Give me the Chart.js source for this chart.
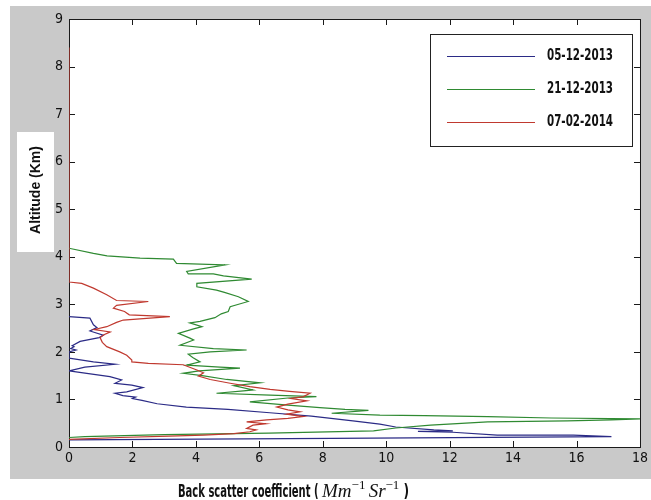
<!DOCTYPE html>
<html>
<head>
<meta charset="utf-8">
<script src="https://cdn.jsdelivr.net/npm/chart.js@4.4.1/dist/chart.umd.min.js"></script>
<style>
  html, body { margin: 0; padding: 0; background: #fff; }
  #wrap { width: 651px; height: 500px; }
</style>
</head>
<body>
<div id="wrap"><canvas id="chart" width="651" height="500"></canvas></div>
<script>
const seriesLabels = ["05-12-2013", "21-12-2013", "07-02-2014"];
const seriesColors = ["#2b2b86", "#2f8a32", "#c0392f"];

// 05-12-2013 : backscatter vs altitude (km), bottom to top
const blueX = [0, 8.3, 17.1, 15.9, 13.5, 12.1, 11.0, 12.1, 11.5, 10.3, 9.8, 8.95, 7.64, 6.33, 5.01, 3.7, 2.78, 2.3, 2.0, 2.1, 1.7, 1.45, 1.82, 2.33, 1.98, 1.45, 1.66, 1.29, 0.56, 0, 0.5, 1.45, 0.77, 0, 0, 0.22, 0.05, 0.16, 0.1, 0.35, 0.95, 1.08, 0.66, 0.88, 0.77, 0.66, 0];
const blueAlt = [0.15, 0.18, 0.22, 0.25, 0.25, 0.31, 0.33, 0.34, 0.36, 0.42, 0.48, 0.55, 0.65, 0.72, 0.79, 0.84, 0.91, 0.98, 1.02, 1.05, 1.08, 1.13, 1.16, 1.25, 1.30, 1.34, 1.41, 1.48, 1.55, 1.60, 1.68, 1.74, 1.79, 1.87, 2.0, 2.04, 2.07, 2.11, 2.13, 2.22, 2.30, 2.35, 2.44, 2.51, 2.57, 2.71, 2.74];

// 21-12-2013
const greenX = [0, 0.5, 3.0, 6.3, 9.6, 10.3, 11.4, 13.2, 15.7, 17.1, 18, 15.2, 13.2, 11.2, 9.8, 8.28, 9.44, 8.7, 7.91, 6.9, 5.7, 6.9, 7.8, 6.34, 4.65, 5.5, 5.8, 5.2, 6.02, 4.97, 4.2, 3.6, 4.1, 5.39, 4.76, 3.71, 4.13, 3.9, 3.76, 4.45, 5.6, 4.55, 3.5, 3.93, 3.81, 3.45, 3.9, 4.19, 3.81, 4.13, 4.6, 4.8, 5.02, 5.08, 5.65, 5.34, 4.9, 4.65, 4.03, 4.03, 5.76, 4.87, 4.55, 3.76, 3.71, 4.92, 3.39, 3.29, 2.24, 1.2, 0.77, 0];
const greenAlt = [0.2, 0.22, 0.26, 0.29, 0.34, 0.40, 0.46, 0.53, 0.55, 0.57, 0.59, 0.61, 0.64, 0.66, 0.67, 0.71, 0.77, 0.79, 0.83, 0.88, 0.95, 1.03, 1.06, 1.09, 1.13, 1.18, 1.20, 1.29, 1.35, 1.42, 1.50, 1.55, 1.60, 1.66, 1.68, 1.72, 1.79, 1.88, 1.95, 2.0, 2.04, 2.07, 2.14, 2.25, 2.29, 2.39, 2.48, 2.53, 2.61, 2.64, 2.72, 2.80, 2.85, 2.95, 3.06, 3.16, 3.25, 3.30, 3.37, 3.44, 3.53, 3.60, 3.64, 3.64, 3.69, 3.83, 3.86, 3.95, 3.97, 4.02, 4.07, 4.18];

// 07-02-2014
const redX = [0, 1.6, 3.15, 4.24, 5.2, 5.7, 5.9, 5.6, 5.8, 6.2, 5.6, 6.23, 6.9, 7.39, 6.86, 7.28, 6.9, 6.55, 6.9, 7.5, 7.0, 7.39, 7.6, 6.95, 6.34, 5.7, 5.08, 4.45, 4.08, 4.24, 4.03, 3.6, 2.5, 1.98, 1.98, 1.82, 1.6, 1.19, 1.05, 0.98, 1.1, 1.3, 0.8, 1.19, 1.5, 1.71, 3.18, 1.9, 1.75, 1.4, 1.5, 2.5, 1.5, 1.19, 0.77, 0.4, 0, 0];
const redAlt = [0.16, 0.20, 0.23, 0.25, 0.28, 0.32, 0.36, 0.39, 0.46, 0.49, 0.53, 0.57, 0.60, 0.64, 0.69, 0.74, 0.78, 0.84, 0.90, 0.97, 1.02, 1.06, 1.13, 1.17, 1.21, 1.27, 1.34, 1.42, 1.49, 1.56, 1.62, 1.73, 1.76, 1.79, 1.83, 1.93, 2.0, 2.11, 2.20, 2.30, 2.36, 2.42, 2.47, 2.53, 2.62, 2.67, 2.74, 2.78, 2.85, 2.92, 2.98, 3.06, 3.08, 3.20, 3.34, 3.44, 3.47, 8.4];

const xTicks = [0, 2, 4, 6, 8, 10, 12, 14, 16, 18];
const yTicks = [0, 1, 2, 3, 4, 5, 6, 7, 8, 9];

function toPoints(xs, ys) {
  return xs.map((v, i) => ({x: v, y: ys[i]}));
}

const tickFont = {family: "'Liberation Sans Narrow', 'DejaVu Sans Condensed', sans-serif", size: 14};

// draw text squeezed horizontally, returns the drawn width
function squeezed(ctx, txt, x, y, sx) {
  ctx.save();
  ctx.translate(x, y);
  ctx.scale(sx, 1);
  ctx.fillText(txt, 0, 0);
  ctx.restore();
  return ctx.measureText(txt).width * sx;
}

const framePlugin = {
  id: 'frame',
  beforeDraw(chart) {
    const {ctx, chartArea: a} = chart;
    ctx.save();
    ctx.fillStyle = '#fff';
    ctx.fillRect(0, 0, chart.width, chart.height);
    ctx.fillStyle = '#c9c9c9';
    ctx.fillRect(10, 6, chart.width - 10, 473);
    ctx.fillStyle = '#fff';
    ctx.fillRect(a.left, a.top, a.right - a.left, a.bottom - a.top);
    ctx.restore();
  },
  beforeDatasetsDraw(chart) {
    const {ctx, chartArea: a, scales} = chart;
    ctx.save();
    ctx.strokeStyle = '#1a1a1a';
    ctx.lineWidth = 1;
    ctx.strokeRect(a.left + 0.5, a.top + 0.5, a.right - a.left, a.bottom - a.top);
    ctx.beginPath();
    xTicks.forEach(v => {
      const px = Math.round(scales.x.getPixelForValue(v)) + 0.5;
      ctx.moveTo(px, a.bottom); ctx.lineTo(px, a.bottom - 6);
      ctx.moveTo(px, a.top); ctx.lineTo(px, a.top + 6);
    });
    yTicks.forEach(v => {
      const py = Math.round(scales.y.getPixelForValue(v)) + 0.5;
      ctx.moveTo(a.left, py); ctx.lineTo(a.left + 6, py);
      ctx.moveTo(a.right, py); ctx.lineTo(a.right - 6, py);
    });
    ctx.stroke();
    ctx.restore();
  },
  afterDraw(chart) {
    const ctx = chart.ctx;
    ctx.save();

    // legend box
    ctx.fillStyle = '#fff';
    ctx.fillRect(430, 34, 202, 112);
    ctx.strokeStyle = '#222';
    ctx.lineWidth = 1;
    ctx.strokeRect(430.5, 34.5, 202, 112);
    ctx.font = "bold 15px 'Liberation Sans Narrow', 'DejaVu Sans Condensed', sans-serif";
    ctx.textBaseline = 'middle';
    chart.data.datasets.forEach((ds, i) => {
      const ly = 56 + i * 33 + 0.5;
      ctx.strokeStyle = ds.borderColor;
      ctx.beginPath();
      ctx.moveTo(447, ly); ctx.lineTo(535, ly);
      ctx.stroke();
      ctx.fillStyle = '#111';
      const w = ctx.measureText(ds.label).width;
      squeezed(ctx, ds.label, 547, ly, 66 / w);
    });

    // y axis title on white patch
    ctx.fillStyle = '#fff';
    ctx.fillRect(17, 132, 37, 120);
    ctx.translate(36, 190);
    ctx.rotate(-Math.PI / 2);
    ctx.fillStyle = '#111';
    ctx.font = "bold 14px 'Liberation Sans', sans-serif";
    ctx.textAlign = 'center';
    ctx.fillText('Altitude (Km)', 0, 0);
    ctx.setTransform(1, 0, 0, 1, 0, 0);

    // x axis title
    let tx = 178;
    const by = 497;
    ctx.textAlign = 'left';
    ctx.textBaseline = 'alphabetic';
    const part = (txt, font, sx, dy) => {
      ctx.font = font;
      tx += squeezed(ctx, txt, tx, by + (dy || 0), sx);
    };
    const bold = "bold 17px 'Liberation Sans Narrow', 'DejaVu Sans Condensed', sans-serif";
    const ital = "italic 19px 'Liberation Serif', 'DejaVu Serif', serif";
    const sup = "13px 'Liberation Serif', 'DejaVu Serif', serif";
    ctx.font = bold;
    const bw = ctx.measureText('Back scatter coefficient ( ').width;
    part('Back scatter coefficient ( ', bold, 144 / bw);
    part('Mm', ital, 1);
    part('\u22121 ', sup, 1, -8);
    part('Sr', ital, 1);
    part('\u22121', sup, 1, -8);
    part(' )', bold, 0.8);
    ctx.restore();
  }
};

const ctx = document.getElementById('chart').getContext('2d');
new Chart(ctx, {
  type: 'scatter',
  data: {
    datasets: [
      {label: seriesLabels[0], data: toPoints(blueX, blueAlt), borderColor: seriesColors[0], order: 2},
      {label: seriesLabels[1], data: toPoints(greenX, greenAlt), borderColor: seriesColors[1], order: 1},
      {label: seriesLabels[2], data: toPoints(redX, redAlt), borderColor: seriesColors[2], order: 0}
    ].map(ds => Object.assign(ds, {showLine: true, borderWidth: 1.2, pointRadius: 0, tension: 0, fill: false}))
  },
  options: {
    responsive: false,
    animation: false,
    devicePixelRatio: 1,
    layout: {padding: {left: 10, top: 19, right: 11, bottom: 0}},
    plugins: {legend: {display: false}, tooltip: {enabled: false}},
    scales: {
      x: {
        type: 'linear', min: 0, max: 18,
        afterBuildTicks: s => { s.ticks = xTicks.map(v => ({value: v})); },
        afterFit: s => { s.height = 53; },
        grid: {display: false, drawTicks: false},
        border: {display: false},
        ticks: {font: tickFont, color: '#111', padding: 3}
      },
      y: {
        type: 'linear', min: 0, max: 9,
        afterBuildTicks: s => { s.ticks = yTicks.map(v => ({value: v})); },
        afterFit: s => { s.width = 59; },
        grid: {display: false, drawTicks: false},
        border: {display: false},
        ticks: {font: tickFont, color: '#111', padding: 6}
      }
    }
  },
  plugins: [framePlugin]
});
</script>
</body>
</html>
